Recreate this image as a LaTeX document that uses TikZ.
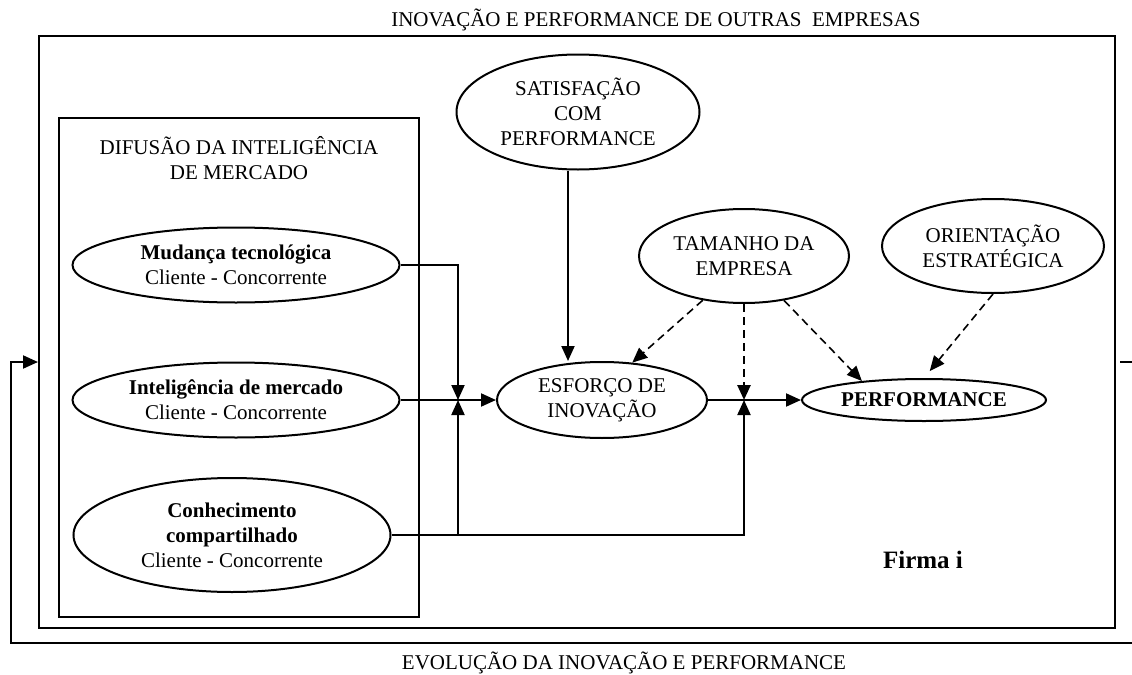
\documentclass[tikz,border=0pt]{standalone}
\usepackage{fontspec}
\setmainfont{Liberation Serif}
\usetikzlibrary{arrows.meta,shapes.geometric,calc}
\begin{document}
\begin{tikzpicture}[x=0.5pt,y=-0.5pt,
 line width=1pt,
 every node/.style={font=\fontsize{10.5}{12.5}\selectfont, align=center, inner sep=0pt},
 ell/.style={draw, ellipse, line width=1pt},
 arr/.style={-{Triangle[length=7.5pt,width=6.5pt]}},
 dsh/.style={dash pattern=on 4pt off 2.5pt, line width=0.8pt},
 dshv/.style={dash pattern=on 4pt off 2.5pt, line width=1.3pt},
]
\useasboundingbox (0,0) rectangle (1132,675);

% titles
\node (ttop) at (656,20) {INOVAÇÃO E PERFORMANCE DE OUTRAS \ EMPRESAS};
\node (tbot) at (624,663) {EVOLUÇÃO DA INOVAÇÃO E PERFORMANCE};

% boxes
\node[draw, minimum width=538pt, minimum height=296pt] (firm) at (577,332) {};
\node[draw, minimum width=180pt, minimum height=249.5pt] (mkt) at (239,367.5) {};
\node (mkttxt) at (239,158) {DIFUSÃO DA INTELIGÊNCIA\\DE MERCADO};

% ellipses
\node[ell, minimum width=163.5pt, minimum height=37.5pt] (mud) at (236,265)
  {\textbf{Mudança tecnológica}\\Cliente - Concorrente};
\node[ell, minimum width=163.5pt, minimum height=37.5pt] (int) at (236,400)
  {\textbf{Inteligência de mercado}\\Cliente - Concorrente};
\node[ell, minimum width=158.5pt, minimum height=57pt] (con) at (232,535)
  {\textbf{Conhecimento}\\\textbf{compartilhado}\\Cliente - Concorrente};
\node[ell, minimum width=105pt, minimum height=38pt] (esf) at (602,400)
  {ESFORÇO DE\\INOVAÇÃO};
\node[ell, minimum width=122pt, minimum height=21pt] (perf) at (924,400)
  {\textbf{PERFORMANCE}};
\node[ell, minimum width=121.5pt, minimum height=57.5pt] (sat) at (578,112)
  {SATISFAÇÃO\\COM\\PERFORMANCE};
\node[ell, minimum width=105pt, minimum height=47pt] (tam) at (744,256)
  {TAMANHO DA\\EMPRESA};
\node[ell, minimum width=111pt, minimum height=47pt] (ori) at (993,246)
  {ORIENTAÇÃO\\ESTRATÉGICA};

\node[font=\fontsize{12.5}{14}\selectfont\bfseries] (firma) at (923,560) {Firma i};

% junctions
\coordinate (j1) at (458,400);
\coordinate (j2) at (tam.south |- esf.east);

% solid connectors
\draw[arr] (mud.east) -| (j1);
\draw[arr] (int.east) -- (esf.west);
\draw[arr] (j1 |- con.east) -- (j1);
\draw[arr] (con.east) -| (j2);
\draw[arr] (esf.east) -- (perf.west);
\draw[arr] ([xshift=-5pt]sat.south) -- ([xshift=-5pt]sat.south |- esf.north);

% dashed connectors
\draw[dsh,arr] (tam.227) -- (esf.51);
\draw[dshv,arr] (tam.south) -- (j2);
\draw[dsh,arr] (tam.312) -- (perf.163);
\draw[dsh,arr,shorten >=4.5pt] (ori.south) -- (perf.north);

% feedback loop
\coordinate (loopR) at (1132,362);
\coordinate (loopB) at (1132,643);
\coordinate (loopL) at (11,362);
\draw ([xshift=2pt]firm.east |- loopR) -- (loopR);
\draw[arr] (loopB) -| (loopL) -- (loopL -| firm.west);
\end{tikzpicture}
\end{document}
